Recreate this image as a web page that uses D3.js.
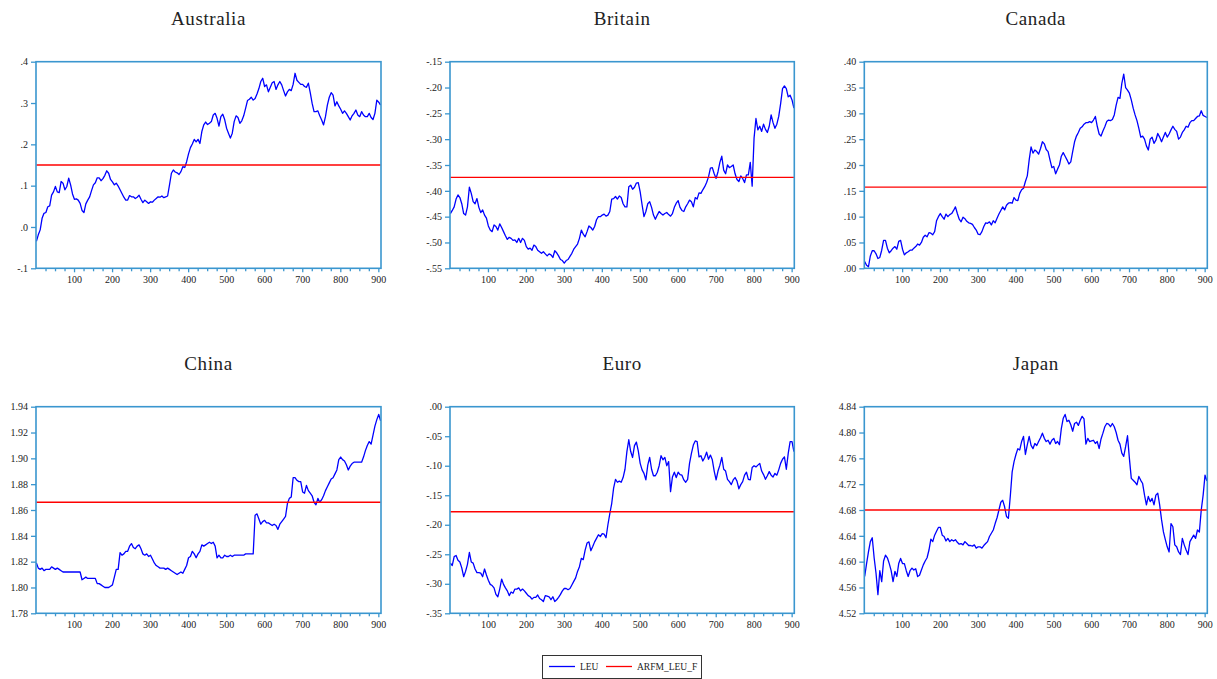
<!DOCTYPE html>
<html>
<head>
<meta charset="utf-8">
<script src="https://cdn.jsdelivr.net/npm/d3@7"></script>
<style>
  body { margin: 0; background: #fff; }
  svg { display: block; }
  text { font-family: "Liberation Serif", "Times New Roman", serif; fill: #222; }
</style>
</head>
<body>
<svg id="chart" width="1217" height="679"></svg>
<script>
// ---- Data: log exchange rates (LEU), sampled every 5th observation from obs 1 ----
const obsStart = 1;
const obsStep = 5;
const obsDomain = [0, 907];

const australia = [
  -.035,-.019,-.007,.021,.033,.035,.049,.051,.077,.085,.098,.085,.083,.110,.106,.090,.098,.118,.102,.080,
  .067,.068,.065,.057,.040,.035,.056,.065,.073,.088,.102,.107,.119,.119,.112,.117,.125,.136,.130,.115,
  .109,.102,.106,.099,.090,.081,.072,.065,.065,.076,.073,.073,.069,.072,.077,.067,.059,.065,.061,.057,
  .061,.060,.065,.069,.073,.072,.075,.071,.073,.075,.102,.130,.138,.133,.131,.127,.134,.146,.144,.158,
  .177,.192,.201,.212,.206,.212,.202,.231,.247,.254,.248,.251,.255,.271,.275,.263,.244,.267,.273,.260,
  .239,.227,.215,.227,.255,.269,.265,.251,.257,.269,.287,.306,.309,.314,.307,.311,.322,.335,.352,.360,
  .340,.344,.327,.338,.349,.352,.333,.344,.352,.344,.330,.317,.327,.333,.330,.345,.372,.355,.350,.345,
  .345,.340,.338,.348,.325,.299,.279,.279,.281,.269,.259,.247,.267,.295,.314,.325,.319,.293,.303,.293,
  .285,.275,.281,.275,.267,.259,.269,.275,.283,.271,.267,.279,.271,.267,.267,.275,.265,.260,.275,.307,
  .302,.295
];
const britain = [
  -.444,-.438,-.431,-.416,-.408,-.413,-.425,-.444,-.447,-.431,-.393,-.405,-.421,-.425,-.415,-.432,-.442,-.437,-.447,-.453,
  -.468,-.476,-.479,-.466,-.469,-.476,-.464,-.471,-.479,-.487,-.494,-.490,-.492,-.496,-.495,-.500,-.492,-.500,-.492,-.496,
  -.508,-.513,-.511,-.515,-.505,-.508,-.515,-.518,-.521,-.518,-.522,-.526,-.522,-.524,-.529,-.516,-.520,-.526,-.533,-.535,
  -.540,-.535,-.533,-.527,-.521,-.513,-.508,-.503,-.492,-.476,-.484,-.489,-.479,-.468,-.471,-.476,-.469,-.456,-.450,-.450,
  -.447,-.445,-.449,-.447,-.440,-.416,-.415,-.411,-.416,-.410,-.413,-.425,-.431,-.431,-.392,-.389,-.397,-.393,-.385,-.384,
  -.402,-.427,-.450,-.440,-.425,-.421,-.432,-.447,-.455,-.447,-.440,-.444,-.447,-.444,-.442,-.446,-.449,-.444,-.432,-.424,
  -.419,-.432,-.438,-.440,-.431,-.425,-.418,-.421,-.431,-.413,-.416,-.404,-.405,-.398,-.392,-.384,-.373,-.356,-.355,-.367,
  -.376,-.363,-.345,-.333,-.360,-.367,-.350,-.355,-.353,-.350,-.367,-.378,-.382,-.371,-.376,-.384,-.369,-.369,-.345,-.391,
  -.298,-.260,-.282,-.275,-.285,-.271,-.281,-.287,-.275,-.253,-.268,-.279,-.271,-.256,-.231,-.202,-.197,-.202,-.218,-.215,
  -.224,-.240
];
const canada = [
  .013,.006,.003,.024,.034,.034,.028,.019,.021,.035,.054,.054,.039,.030,.034,.039,.042,.037,.052,.054,
  .037,.026,.030,.032,.035,.035,.039,.042,.047,.045,.050,.060,.064,.061,.069,.068,.065,.071,.092,.100,
  .106,.100,.095,.105,.100,.104,.106,.112,.119,.106,.095,.090,.099,.096,.091,.088,.087,.085,.079,.074,
  .066,.065,.071,.081,.088,.087,.090,.084,.092,.088,.097,.105,.112,.119,.113,.122,.126,.127,.126,.137,
  .132,.131,.145,.152,.155,.168,.179,.210,.235,.223,.229,.226,.221,.232,.245,.241,.230,.226,.210,.195,
  .197,.183,.192,.200,.217,.224,.217,.210,.202,.206,.226,.245,.256,.263,.271,.274,.279,.282,.282,.284,
  .282,.287,.294,.275,.260,.256,.266,.274,.284,.287,.286,.288,.297,.316,.331,.329,.358,.376,.350,.345,
  .339,.326,.310,.297,.286,.271,.254,.256,.250,.237,.229,.250,.254,.242,.248,.261,.254,.245,.254,.263,
  .254,.260,.268,.275,.269,.265,.250,.254,.263,.268,.275,.273,.282,.286,.286,.290,.294,.295,.305,.296,
  .294,.292
];
const china = [
  1.819,1.815,1.814,1.815,1.813,1.814,1.814,1.814,1.816,1.815,1.814,1.815,1.814,1.813,1.812,1.812,1.812,1.812,1.812,1.812,
  1.812,1.812,1.812,1.812,1.806,1.807,1.808,1.807,1.807,1.807,1.807,1.807,1.803,1.803,1.802,1.801,1.800,1.800,1.800,1.801,
  1.802,1.808,1.814,1.814,1.827,1.825,1.826,1.828,1.828,1.832,1.834,1.831,1.830,1.832,1.833,1.830,1.826,1.825,1.826,1.824,
  1.825,1.822,1.819,1.817,1.816,1.815,1.815,1.815,1.814,1.815,1.814,1.813,1.812,1.811,1.810,1.811,1.812,1.811,1.814,1.817,
  1.823,1.824,1.828,1.826,1.823,1.826,1.828,1.833,1.832,1.833,1.834,1.835,1.834,1.835,1.832,1.823,1.825,1.823,1.823,1.825,
  1.824,1.824,1.825,1.824,1.825,1.825,1.825,1.825,1.825,1.825,1.826,1.826,1.826,1.826,1.826,1.856,1.857,1.853,1.849,1.851,
  1.852,1.850,1.850,1.849,1.848,1.849,1.848,1.845,1.849,1.851,1.853,1.855,1.865,1.869,1.870,1.885,1.885,1.883,1.882,1.882,
  1.874,1.873,1.879,1.875,1.873,1.871,1.866,1.864,1.869,1.866,1.868,1.871,1.875,1.878,1.881,1.884,1.885,1.888,1.891,1.899,
  1.901,1.899,1.898,1.895,1.891,1.894,1.896,1.897,1.897,1.897,1.897,1.897,1.901,1.906,1.910,1.913,1.911,1.918,1.925,1.930,
  1.934,1.929
];
const euro = [
  -.265,-.269,-.254,-.252,-.260,-.263,-.273,-.288,-.279,-.267,-.247,-.263,-.265,-.275,-.281,-.281,-.282,-.288,-.275,-.285,
  -.294,-.301,-.303,-.307,-.318,-.322,-.309,-.292,-.301,-.307,-.312,-.320,-.314,-.316,-.309,-.309,-.307,-.312,-.309,-.312,
  -.316,-.320,-.322,-.326,-.323,-.323,-.319,-.325,-.327,-.330,-.320,-.321,-.322,-.327,-.322,-.330,-.327,-.323,-.318,-.312,
  -.308,-.308,-.310,-.308,-.302,-.296,-.290,-.279,-.271,-.257,-.259,-.243,-.231,-.229,-.244,-.237,-.229,-.223,-.217,-.220,
  -.215,-.216,-.222,-.200,-.181,-.164,-.138,-.123,-.128,-.126,-.128,-.120,-.106,-.076,-.056,-.076,-.086,-.066,-.060,-.075,
  -.096,-.107,-.113,-.124,-.099,-.086,-.106,-.117,-.117,-.111,-.100,-.083,-.090,-.086,-.100,-.093,-.144,-.119,-.111,-.120,
  -.111,-.115,-.116,-.124,-.128,-.123,-.096,-.079,-.065,-.058,-.059,-.085,-.083,-.092,-.086,-.077,-.089,-.082,-.090,-.109,
  -.124,-.109,-.099,-.086,-.106,-.109,-.123,-.127,-.132,-.124,-.120,-.126,-.139,-.132,-.127,-.116,-.111,-.123,-.124,-.103,
  -.100,-.102,-.099,-.096,-.109,-.115,-.123,-.117,-.110,-.116,-.119,-.113,-.116,-.107,-.096,-.089,-.085,-.106,-.079,-.059,
  -.059,-.076
];
const japan = [
  4.577,4.597,4.615,4.631,4.637,4.606,4.582,4.549,4.586,4.569,4.601,4.610,4.606,4.597,4.586,4.569,4.585,4.577,4.597,4.605,
  4.597,4.597,4.586,4.577,4.586,4.590,4.587,4.589,4.577,4.579,4.587,4.595,4.601,4.606,4.618,4.635,4.631,4.641,4.647,4.653,
  4.653,4.641,4.639,4.632,4.636,4.631,4.634,4.632,4.634,4.630,4.627,4.628,4.626,4.631,4.628,4.625,4.625,4.624,4.626,4.621,
  4.623,4.623,4.621,4.625,4.628,4.631,4.639,4.644,4.649,4.659,4.668,4.680,4.692,4.695,4.685,4.670,4.667,4.701,4.739,4.755,
  4.766,4.775,4.773,4.786,4.794,4.766,4.781,4.794,4.780,4.775,4.783,4.780,4.786,4.792,4.799,4.791,4.786,4.788,4.782,4.788,
  4.791,4.783,4.786,4.781,4.806,4.822,4.828,4.817,4.819,4.812,4.802,4.814,4.816,4.811,4.819,4.825,4.821,4.782,4.791,4.786,
  4.787,4.788,4.783,4.786,4.775,4.790,4.799,4.809,4.814,4.813,4.809,4.814,4.809,4.800,4.788,4.782,4.768,4.763,4.778,4.795,
  4.760,4.729,4.726,4.723,4.719,4.732,4.726,4.721,4.703,4.688,4.701,4.693,4.698,4.688,4.703,4.706,4.688,4.665,4.646,4.634,
  4.623,4.615,4.659,4.654,4.626,4.623,4.615,4.611,4.636,4.626,4.618,4.611,4.631,4.636,4.641,4.636,4.649,4.646,4.680,4.703,
  4.734,4.725
];

// ---- Fitted constant (ARFM_LEU_F) per currency ----
const fittedAustralia = 0.150;
const fittedBritain = -0.374;
const fittedCanada = 0.157;
const fittedChina = 1.866;
const fittedEuro = -0.178;
const fittedJapan = 4.680;

// ---- Y-axis ticks and their labels ----
const ticksAustralia = [-0.1, 0.0, 0.1, 0.2, 0.3, 0.4];
const labelsAustralia = ["-.1", ".0", ".1", ".2", ".3", ".4"];
const ticksBritain = [-0.55, -0.50, -0.45, -0.40, -0.35, -0.30, -0.25, -0.20, -0.15];
const labelsBritain = ["-.55", "-.50", "-.45", "-.40", "-.35", "-.30", "-.25", "-.20", "-.15"];
const ticksCanada = [0.00, 0.05, 0.10, 0.15, 0.20, 0.25, 0.30, 0.35, 0.40];
const labelsCanada = [".00", ".05", ".10", ".15", ".20", ".25", ".30", ".35", ".40"];
const ticksChina = [1.78, 1.80, 1.82, 1.84, 1.86, 1.88, 1.90, 1.92, 1.94];
const labelsChina = ["1.78", "1.80", "1.82", "1.84", "1.86", "1.88", "1.90", "1.92", "1.94"];
const ticksEuro = [-0.35, -0.30, -0.25, -0.20, -0.15, -0.10, -0.05, 0.00];
const labelsEuro = ["-.35", "-.30", "-.25", "-.20", "-.15", "-.10", "-.05", ".00"];
const ticksJapan = [4.52, 4.56, 4.60, 4.64, 4.68, 4.72, 4.76, 4.80, 4.84];
const labelsJapan = ["4.52", "4.56", "4.60", "4.64", "4.68", "4.72", "4.76", "4.80", "4.84"];

// ---- X-axis ticks ----
const xMajorTicks = [100, 200, 300, 400, 500, 600, 700, 800, 900];
const xMinorTicks = d3.range(25, 901, 25).filter(v => v % 100 !== 0);

const seriesNames = ["LEU", "ARFM_LEU_F"];
const seriesColors = ["#0000ff", "#ff0000"];

const panels = [
  { title: "Australia", values: australia, fitted: fittedAustralia, ticks: ticksAustralia, labels: labelsAustralia },
  { title: "Britain",   values: britain,   fitted: fittedBritain,   ticks: ticksBritain,   labels: labelsBritain },
  { title: "Canada",    values: canada,    fitted: fittedCanada,    ticks: ticksCanada,    labels: labelsCanada },
  { title: "China",     values: china,     fitted: fittedChina,     ticks: ticksChina,     labels: labelsChina },
  { title: "Euro",      values: euro,      fitted: fittedEuro,      ticks: ticksEuro,      labels: labelsEuro },
  { title: "Japan",     values: japan,     fitted: fittedJapan,     ticks: ticksJapan,     labels: labelsJapan }
];

// ---- Layout ----
const columns = [[36, 381], [450, 794.3], [864.3, 1207.3]];
const rows = [[61.7, 268.3], [406.7, 613.3]];
const frameColor = "#3a96cf";

const svg = d3.select("#chart");
const defs = svg.append("defs");

panels.forEach((p, k) => {
  const [x0, x1] = columns[k % 3];
  const [y0, y1] = rows[Math.floor(k / 3)];
  const x = d3.scaleLinear().domain(obsDomain).range([x0, x1]);
  const y = d3.scaleLinear().domain([p.ticks[0], p.ticks[p.ticks.length - 1]]).range([y1, y0]);
  const obs = i => obsStart + i * obsStep;
  const lastObs = obs(p.values.length - 1);

  const g = svg.append("g").attr("class", "panel");

  defs.append("clipPath").attr("id", "clip" + k)
    .append("rect").attr("x", x0).attr("y", y0).attr("width", x1 - x0).attr("height", y1 - y0);

  const plot = g.append("g").attr("clip-path", `url(#clip${k})`);

  // LEU series
  plot.append("path")
    .datum(p.values)
    .attr("fill", "none")
    .attr("stroke", seriesColors[0])
    .attr("stroke-width", 1.3)
    .attr("stroke-linejoin", "round")
    .attr("d", d3.line().x((d, i) => x(obs(i))).y(d => y(d)));

  // fitted constant
  plot.append("path")
    .datum([obsStart, lastObs])
    .attr("fill", "none")
    .attr("stroke", seriesColors[1])
    .attr("stroke-width", 1.3)
    .attr("d", d3.line().x(d => x(d)).y(() => y(p.fitted)));

  // y axis
  const yAxis = g.append("g")
    .attr("transform", `translate(${x0},0)`)
    .call(d3.axisLeft(y).tickValues(p.ticks).tickSize(5).tickPadding(3)
      .tickFormat((d, i) => p.labels[i]));
  yAxis.select(".domain").remove();

  // x axis: minor then major ticks
  const xMinor = g.append("g")
    .attr("transform", `translate(0,${y1})`)
    .call(d3.axisBottom(x).tickValues(xMinorTicks).tickSize(3).tickFormat(""));
  xMinor.select(".domain").remove();
  const xAxis = g.append("g")
    .attr("transform", `translate(0,${y1})`)
    .call(d3.axisBottom(x).tickValues(xMajorTicks).tickSize(4).tickPadding(4)
      .tickFormat(d3.format("d")));
  xAxis.select(".domain").remove();

  g.selectAll(".tick line").attr("stroke", frameColor).attr("stroke-width", 1.3);
  g.selectAll(".tick text")
    .attr("font-family", "'Liberation Serif', serif")
    .attr("font-size", 10)
    .attr("fill", "#222");

  // frame
  g.append("rect")
    .attr("x", x0).attr("y", y0)
    .attr("width", x1 - x0).attr("height", y1 - y0)
    .attr("fill", "none")
    .attr("stroke", frameColor)
    .attr("stroke-width", 1.6);

  // title
  g.append("text")
    .attr("x", (x0 + x1) / 2)
    .attr("y", y0 - 37)
    .attr("text-anchor", "middle")
    .attr("font-size", 19)
    .attr("letter-spacing", 0.6)
    .text(p.title);
});

// ---- Legend ----
const legend = svg.append("g").attr("class", "legend");
legend.append("rect")
  .attr("x", 542.5).attr("y", 655.5)
  .attr("width", 159).attr("height", 23)
  .attr("fill", "#fff")
  .attr("stroke", "#333")
  .attr("stroke-width", 1);
const legendItems = [
  { lineX: 549, textX: 580 },
  { lineX: 606, textX: 637 }
];
legendItems.forEach((it, i) => {
  legend.append("line")
    .attr("x1", it.lineX).attr("x2", it.lineX + 26)
    .attr("y1", 666.5).attr("y2", 666.5)
    .attr("stroke", seriesColors[i]).attr("stroke-width", 1.3);
  legend.append("text")
    .attr("x", it.textX).attr("y", 670)
    .attr("font-size", 9.5)
    .text(seriesNames[i]);
});
</script>
</body>
</html>
